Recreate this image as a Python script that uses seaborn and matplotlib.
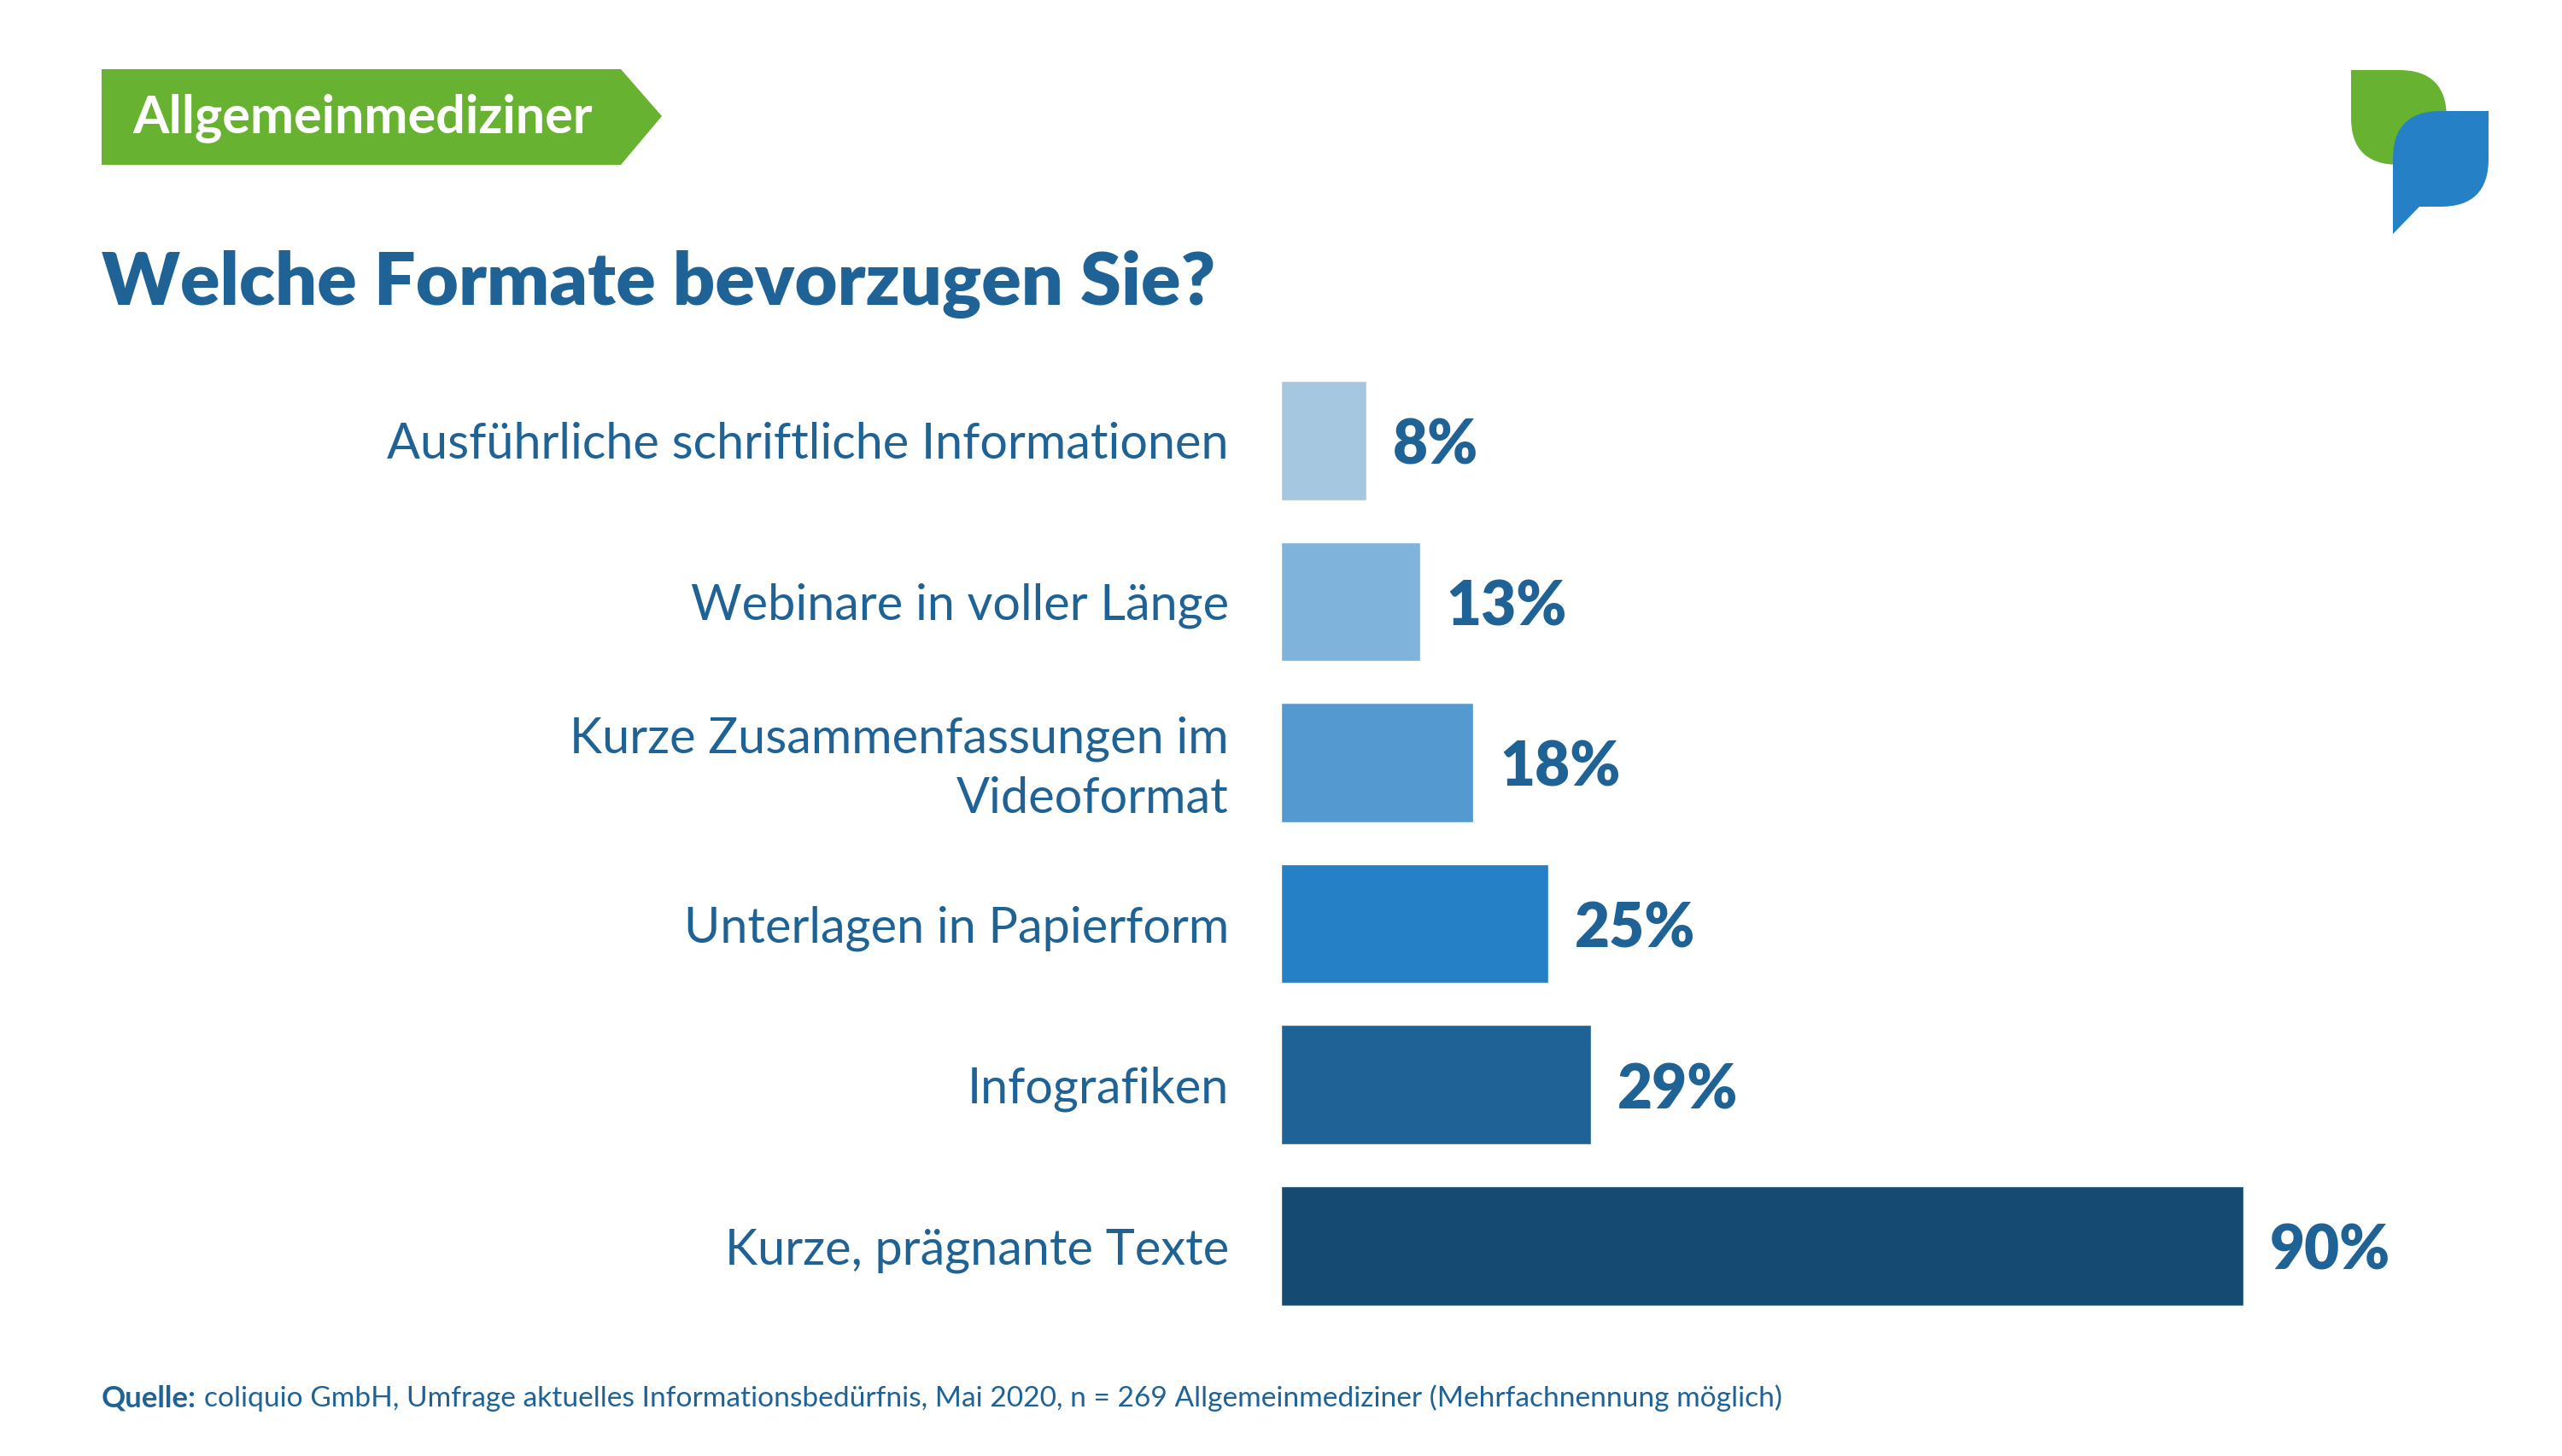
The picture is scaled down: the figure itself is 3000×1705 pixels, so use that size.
#!/usr/bin/env python

import matplotlib.pyplot as plt
import pandas as pd
import seaborn as sns
from matplotlib.patches import PathPatch, Polygon
from matplotlib.path import Path
from matplotlib.transforms import ScaledTranslation

formats = [
    "Ausführliche schriftliche Informationen",
    "Webinare in voller Länge",
    "Kurze Zusammenfassungen im\nVideoformat",
    "Unterlagen in Papierform",
    "Infografiken",
    "Kurze, prägnante Texte",
]
shares = [8, 13, 18, 25, 29, 90]
bar_colors = ["#a5c7e0", "#7fb3dc", "#5499cf", "#2580c5", "#1f6296", "#154a72"]

DARK = "#1f6296"
GREEN = "#67b231"
BLUE = "#2580c5"

sns.set_theme(style="white")
plt.rcParams["font.family"] = ["Lato", "DejaVu Sans"]

W, H = 3000, 1705
fig = plt.figure(figsize=(W / 100, H / 100), dpi=100)

# full figure axes in pixels for the ribbon, logo and texts
bg = fig.add_axes([0, 0, 1, 1])
bg.set_xlim(0, W)
bg.set_ylim(H, 0)
bg.axis("off")

bg.add_patch(Polygon([(119, 81), (727, 81), (775, 136), (727, 193), (119, 193)],
                     closed=True, fc=GREEN, ec="none"))
bg.text(155, 138, "Allgemeinmediziner", color="white", fontsize=44, fontweight="bold",
        va="center", ha="left")
bg.text(119, 333, "Welche Formate bevorzugen Sie?", color=DARK, fontsize=62.2,
        fontweight="heavy", va="center", ha="left")

# logo
M, L, C, Z = Path.MOVETO, Path.LINETO, Path.CURVE3, Path.CLOSEPOLY
green_path = Path(
    [(2753, 82), (2809, 82), (2865, 82), (2865, 138), (2865, 193), (2809, 193),
     (2753, 193), (2753, 138), (2753, 82), (2753, 82)],
    [M, L, C, C, L, L, C, C, L, Z])
blue_path = Path(
    [(2914, 130), (2858, 130), (2802, 130), (2802, 186), (2802, 274), (2833, 242),
     (2858, 242), (2914, 242), (2914, 186), (2914, 130), (2914, 130)],
    [M, L, C, C, L, L, L, C, C, L, Z])
bg.add_patch(PathPatch(green_path, fc=GREEN, ec="none"))
bg.add_patch(PathPatch(blue_path, fc=BLUE, ec="none"))

# source line
bg.text(119, 1637, "Quelle:", color=DARK, fontsize=25, fontweight="bold",
        va="center", ha="left")
bg.text(239, 1637,
        "coliquio GmbH, Umfrage aktuelles Informationsbedürfnis, Mai 2020, "
        "n = 269 Allgemeinmediziner (Mehrfachnennung möglich)",
        color=DARK, fontsize=24.1, va="center", ha="left")

# bars
df = pd.DataFrame({"format": formats, "share": shares})
left, right = 1500, 1500 + 1252
top, bottom = 421.5, 421.5 + 6 * 188.6
ax = fig.add_axes([left / W, 1 - bottom / H, (right - left) / W, (bottom - top) / H])
ax.patch.set_alpha(0)
sns.barplot(data=df, x="share", y="format", hue="format", palette=bar_colors,
            dodge=False, legend=False, width=0.74, saturation=1, ax=ax)
ax.set_xlim(0, 100)
ax.set_xlabel("")
ax.set_ylabel("")
ax.set_xticks([])
ax.tick_params(axis="y", length=0, pad=44, labelsize=41.5, labelcolor=DARK)
for lab in ax.get_yticklabels():
    lab.set_multialignment("right")
    lab.set_linespacing(1.4)
    if "\n" in lab.get_text():
        # two line label sits a bit low otherwise
        lab.set_transform(lab.get_transform() + ScaledTranslation(0, 4.8 / 72, fig.dpi_scale_trans))
sns.despine(ax=ax, left=True, bottom=True)

for cont in ax.containers:
    for t in ax.bar_label(cont, fmt="%d%%", padding=22, color=DARK, fontsize=51,
                          fontweight="heavy"):
        t.xyann = (t.xyann[0], -5)

fig.savefig("out.png", dpi=100)
